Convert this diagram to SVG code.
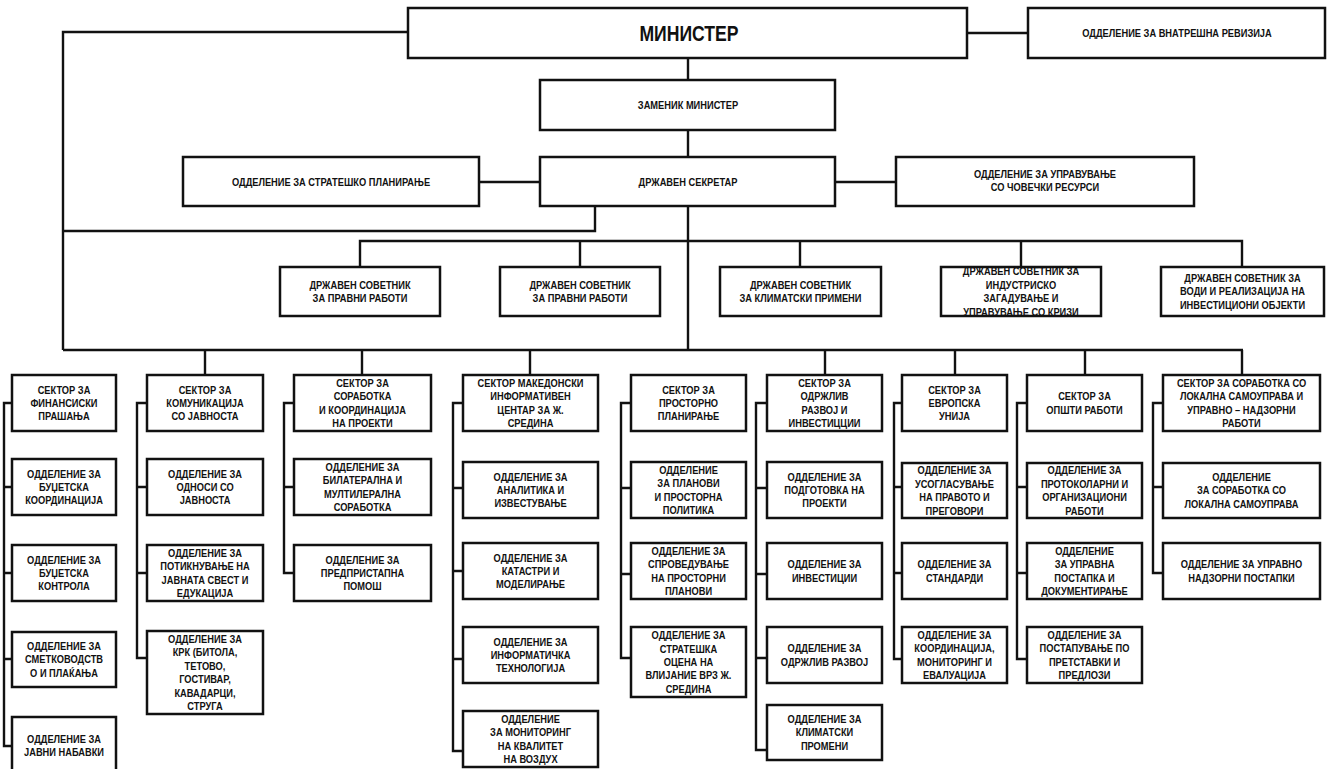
<svg xmlns="http://www.w3.org/2000/svg" width="1327" height="769" viewBox="0 0 1327 769">
<style>
rect{fill:#fff;stroke:#111;stroke-width:2.5}
#connectors path{fill:none;stroke:#111;stroke-width:2.4}
text{font-family:"Liberation Sans",Arial,sans-serif;font-weight:bold;font-size:11.6px;fill:#111;text-anchor:middle}
.big{font-size:22px}
</style>
<rect x="0" y="0" width="1327" height="769" style="fill:#fff;stroke:none"/>
<g id="connectors">
<path d="M408 32H63V350M967 33H1028M688 58V80M688 130V157M479 182H540M835 182H896M595 206V231H63M688 206V350M360 267V241H1242V267M580 241V267M800 241V267M1021 241V267M63 350H1243M205 350V375M362 350V375M530 350V375M825 350V375M955 350V375M1085 350V375M1242 350V375"/>
<path d="M12 403H4V746H12M4 487H12M4 573H12M4 659H12"/>
<path d="M147 403H137V658H147M137 487H147M137 573H147"/>
<path d="M294 403H284V573H294M284 487H294"/>
<path d="M463 403H453V751H463M453 488H463M453 571H463M453 659H463"/>
<path d="M631 403H621V658H631M621 488H631M621 574H631"/>
<path d="M767 403H756V750H767M756 488H767M756 574H767M756 658H767"/>
<path d="M902 403H894V659H902M894 487H902M894 573H902"/>
<path d="M1027 403H1017V659H1027M1017 487H1027M1017 573H1027"/>
<path d="M1163 403H1153V573H1163M1153 487H1163"/>
</g>
<g id="minister"><rect x="408" y="8" width="559" height="50"/><text class="big" transform="matrix(0.8 0 0 1 689 0)" x="0" y="41">МИНИСТЕР</text></g>
<g id="audit"><rect x="1028" y="8" width="297" height="50"/><text transform="matrix(0.8 0 0 1 1177 0)"><tspan x="0" y="37">ОДДЕЛЕНИЕ ЗА ВНАТРЕШНА РЕВИЗИЈА</tspan></text></g>
<g id="deputy"><rect x="540" y="80" width="295" height="50"/><text transform="matrix(0.8 0 0 1 688 0)"><tspan x="0" y="109">ЗАМЕНИК МИНИСТЕР</tspan></text></g>
<g id="secretary"><rect x="540" y="157" width="295" height="49"/><text transform="matrix(0.8 0 0 1 688 0)"><tspan x="0" y="186">ДРЖАВЕН СЕКРЕТАР</tspan></text></g>
<g id="strategic"><rect x="183" y="157" width="296" height="49"/><text transform="matrix(0.8 0 0 1 331 0)"><tspan x="0" y="186">ОДДЕЛЕНИЕ ЗА СТРАТЕШКО ПЛАНИРАЊЕ</tspan></text></g>
<g id="hr"><rect x="896" y="157" width="298" height="49"/><text transform="matrix(0.8 0 0 1 1045 0)"><tspan x="0" y="178">ОДДЕЛЕНИЕ ЗА УПРАВУВАЊЕ</tspan><tspan x="0" dy="13.4">СО ЧОВЕЧКИ РЕСУРСИ</tspan></text></g>

<g id="adv1"><rect x="280" y="267" width="160" height="49"/><text transform="matrix(0.8 0 0 1 360 0)"><tspan x="0" y="289">ДРЖАВЕН СОВЕТНИК</tspan><tspan x="0" dy="13.4">ЗА ПРАВНИ РАБОТИ</tspan></text></g>
<g id="adv2"><rect x="500" y="267" width="160" height="49"/><text transform="matrix(0.8 0 0 1 580 0)"><tspan x="0" y="289">ДРЖАВЕН СОВЕТНИК</tspan><tspan x="0" dy="13.4">ЗА ПРАВНИ РАБОТИ</tspan></text></g>
<g id="adv3"><rect x="720" y="267" width="161" height="49"/><text transform="matrix(0.8 0 0 1 800.5 0)"><tspan x="0" y="289">ДРЖАВЕН СОВЕТНИК</tspan><tspan x="0" dy="13.4">ЗА КЛИМАТСКИ ПРИМЕНИ</tspan></text></g>
<g id="adv4"><rect x="941" y="267" width="160" height="49"/><text transform="matrix(0.8 0 0 1 1021 0)"><tspan x="0" y="275.4">ДРЖАВЕН СОВЕТНИК ЗА</tspan><tspan x="0" dy="13.4">ИНДУСТРИСКО</tspan><tspan x="0" dy="13.4">ЗАГАДУВАЊЕ И</tspan><tspan x="0" dy="13.4">УПРАВУВАЊЕ СО КРИЗИ</tspan></text></g>
<g id="adv5"><rect x="1161" y="267" width="163" height="49"/><text transform="matrix(0.8 0 0 1 1242.5 0)"><tspan x="0" y="282.1">ДРЖАВЕН СОВЕТНИК ЗА</tspan><tspan x="0" dy="13.4">ВОДИ И РЕАЛИЗАЦИЈА НА</tspan><tspan x="0" dy="13.4">ИНВЕСТИЦИОНИ ОБЈЕКТИ</tspan></text></g>

<g id="s1"><rect x="12" y="375" width="104" height="56"/><text transform="matrix(0.8 0 0 1 64 0)"><tspan x="0" y="393.6">СЕКТОР ЗА</tspan><tspan x="0" dy="13.4">ФИНАНСИСКИ</tspan><tspan x="0" dy="13.4">ПРАШАЊА</tspan></text></g>
<g id="s1d1"><rect x="12" y="459" width="104" height="56"/><text transform="matrix(0.8 0 0 1 64 0)"><tspan x="0" y="477.6">ОДДЕЛЕНИЕ ЗА</tspan><tspan x="0" dy="13.4">БУЏЕТСКА</tspan><tspan x="0" dy="13.4">КООРДИНАЦИЈА</tspan></text></g>
<g id="s1d2"><rect x="12" y="545" width="104" height="56"/><text transform="matrix(0.8 0 0 1 64 0)"><tspan x="0" y="563.6">ОДДЕЛЕНИЕ ЗА</tspan><tspan x="0" dy="13.4">БУЏЕТСКА</tspan><tspan x="0" dy="13.4">КОНТРОЛА</tspan></text></g>
<g id="s1d3"><rect x="12" y="632" width="104" height="55"/><text transform="matrix(0.8 0 0 1 64 0)"><tspan x="0" y="650.1">ОДДЕЛЕНИЕ ЗА</tspan><tspan x="0" dy="13.4">СМЕТКОВОДСТВ</tspan><tspan x="0" dy="13.4">О И ПЛАЌАЊА</tspan></text></g>
<g id="s1d4"><rect x="12" y="717" width="104" height="62"/><text transform="matrix(0.8 0 0 1 64 0)"><tspan x="0" y="743">ОДДЕЛЕНИЕ ЗА</tspan><tspan x="0" dy="13.4">ЈАВНИ НАБАВКИ</tspan></text></g>

<g id="s2"><rect x="147" y="375" width="116" height="56"/><text transform="matrix(0.8 0 0 1 205 0)"><tspan x="0" y="393.6">СЕКТОР ЗА</tspan><tspan x="0" dy="13.4">КОМУНИКАЦИЈА</tspan><tspan x="0" dy="13.4">СО ЈАВНОСТА</tspan></text></g>
<g id="s2d1"><rect x="147" y="459" width="116" height="56"/><text transform="matrix(0.8 0 0 1 205 0)"><tspan x="0" y="477.6">ОДДЕЛЕНИЕ ЗА</tspan><tspan x="0" dy="13.4">ОДНОСИ СО</tspan><tspan x="0" dy="13.4">ЈАВНОСТА</tspan></text></g>
<g id="s2d2"><rect x="147" y="545" width="116" height="56"/><text transform="matrix(0.8 0 0 1 205 0)"><tspan x="0" y="556.9">ОДДЕЛЕНИЕ ЗА</tspan><tspan x="0" dy="13.4">ПОТИКНУВАЊЕ НА</tspan><tspan x="0" dy="13.4">ЈАВНАТА СВЕСТ И</tspan><tspan x="0" dy="13.4">ЕДУКАЦИЈА</tspan></text></g>
<g id="s2d3"><rect x="147" y="631" width="116" height="83"/><text transform="matrix(0.8 0 0 1 205 0)"><tspan x="0" y="643">ОДДЕЛЕНИЕ ЗА</tspan><tspan x="0" dy="13.4">КРК (БИТОЛА,</tspan><tspan x="0" dy="13.4">ТЕТОВО,</tspan><tspan x="0" dy="13.4">ГОСТИВАР,</tspan><tspan x="0" dy="13.4">КАВАДАРЦИ,</tspan><tspan x="0" dy="13.4">СТРУГА</tspan></text></g>

<g id="s3"><rect x="294" y="375" width="137" height="56"/><text transform="matrix(0.8 0 0 1 362.5 0)"><tspan x="0" y="386.9">СЕКТОР ЗА</tspan><tspan x="0" dy="13.4">СОРАБОТКА</tspan><tspan x="0" dy="13.4">И КООРДИНАЦИЈА</tspan><tspan x="0" dy="13.4">НА ПРОЕКТИ</tspan></text></g>
<g id="s3d1"><rect x="294" y="459" width="137" height="56"/><text transform="matrix(0.8 0 0 1 362.5 0)"><tspan x="0" y="470.9">ОДДЕЛЕНИЕ ЗА</tspan><tspan x="0" dy="13.4">БИЛАТЕРАЛНА И</tspan><tspan x="0" dy="13.4">МУЛТИЛЕРАЛНА</tspan><tspan x="0" dy="13.4">СОРАБОТКА</tspan></text></g>
<g id="s3d2"><rect x="294" y="545" width="137" height="56"/><text transform="matrix(0.8 0 0 1 362.5 0)"><tspan x="0" y="563.6">ОДДЕЛЕНИЕ ЗА</tspan><tspan x="0" dy="13.4">ПРЕДПРИСТАПНА</tspan><tspan x="0" dy="13.4">ПОМОШ</tspan></text></g>

<g id="s4"><rect x="463" y="375" width="135" height="56"/><text transform="matrix(0.8 0 0 1 530.5 0)"><tspan x="0" y="386.9">СЕКТОР МАКЕДОНСКИ</tspan><tspan x="0" dy="13.4">ИНФОРМАТИВЕН</tspan><tspan x="0" dy="13.4">ЦЕНТАР ЗА Ж.</tspan><tspan x="0" dy="13.4">СРЕДИНА</tspan></text></g>
<g id="s4d1"><rect x="463" y="462" width="135" height="56"/><text transform="matrix(0.8 0 0 1 530.5 0)"><tspan x="0" y="480.6">ОДДЕЛЕНИЕ ЗА</tspan><tspan x="0" dy="13.4">АНАЛИТИКА И</tspan><tspan x="0" dy="13.4">ИЗВЕСТУВАЊЕ</tspan></text></g>
<g id="s4d2"><rect x="463" y="543" width="135" height="56"/><text transform="matrix(0.8 0 0 1 530.5 0)"><tspan x="0" y="561.6">ОДДЕЛЕНИЕ ЗА</tspan><tspan x="0" dy="13.4">КАТАСТРИ И</tspan><tspan x="0" dy="13.4">МОДЕЛИРАЊЕ</tspan></text></g>
<g id="s4d3"><rect x="463" y="627" width="135" height="56"/><text transform="matrix(0.8 0 0 1 530.5 0)"><tspan x="0" y="645.6">ОДДЕЛЕНИЕ ЗА</tspan><tspan x="0" dy="13.4">ИНФОРМАТИЧКА</tspan><tspan x="0" dy="13.4">ТЕХНОЛОГИЈА</tspan></text></g>
<g id="s4d4"><rect x="463" y="711" width="135" height="56"/><text transform="matrix(0.8 0 0 1 530.5 0)"><tspan x="0" y="722.9">ОДДЕЛЕНИЕ</tspan><tspan x="0" dy="13.4">ЗА МОНИТОРИНГ</tspan><tspan x="0" dy="13.4">НА КВАЛИТЕТ</tspan><tspan x="0" dy="13.4">НА ВОЗДУХ</tspan></text></g>

<g id="s5"><rect x="631" y="375" width="115" height="56"/><text transform="matrix(0.8 0 0 1 688.5 0)"><tspan x="0" y="393.6">СЕКТОР ЗА</tspan><tspan x="0" dy="13.4">ПРОСТОРНО</tspan><tspan x="0" dy="13.4">ПЛАНИРАЊЕ</tspan></text></g>
<g id="s5d1"><rect x="631" y="462" width="115" height="56"/><text transform="matrix(0.8 0 0 1 688.5 0)"><tspan x="0" y="473.9">ОДДЕЛЕНИЕ</tspan><tspan x="0" dy="13.4">ЗА ПЛАНОВИ</tspan><tspan x="0" dy="13.4">И ПРОСТОРНА</tspan><tspan x="0" dy="13.4">ПОЛИТИКА</tspan></text></g>
<g id="s5d2"><rect x="631" y="543" width="115" height="56"/><text transform="matrix(0.8 0 0 1 688.5 0)"><tspan x="0" y="554.9">ОДДЕЛЕНИЕ ЗА</tspan><tspan x="0" dy="13.4">СПРОВЕДУВАЊЕ</tspan><tspan x="0" dy="13.4">НА ПРОСТОРНИ</tspan><tspan x="0" dy="13.4">ПЛАНОВИ</tspan></text></g>
<g id="s5d3"><rect x="631" y="627" width="115" height="70"/><text transform="matrix(0.8 0 0 1 688.5 0)"><tspan x="0" y="639.2">ОДДЕЛЕНИЕ ЗА</tspan><tspan x="0" dy="13.4">СТРАТЕШКА</tspan><tspan x="0" dy="13.4">ОЦЕНА НА</tspan><tspan x="0" dy="13.4">ВЛИЈАНИЕ ВРЗ Ж.</tspan><tspan x="0" dy="13.4">СРЕДИНА</tspan></text></g>

<g id="s6"><rect x="767" y="375" width="115" height="56"/><text transform="matrix(0.8 0 0 1 824.5 0)"><tspan x="0" y="386.9">СЕКТОР ЗА</tspan><tspan x="0" dy="13.4">ОДРЖЛИВ</tspan><tspan x="0" dy="13.4">РАЗВОЈ И</tspan><tspan x="0" dy="13.4">ИНВЕСТИЦЦИИ</tspan></text></g>
<g id="s6d1"><rect x="767" y="462" width="115" height="56"/><text transform="matrix(0.8 0 0 1 824.5 0)"><tspan x="0" y="480.6">ОДДЕЛЕНИЕ ЗА</tspan><tspan x="0" dy="13.4">ПОДГОТОВКА НА</tspan><tspan x="0" dy="13.4">ПРОЕКТИ</tspan></text></g>
<g id="s6d2"><rect x="767" y="543" width="115" height="56"/><text transform="matrix(0.8 0 0 1 824.5 0)"><tspan x="0" y="568.3">ОДДЕЛЕНИЕ ЗА</tspan><tspan x="0" dy="13.4">ИНВЕСТИЦИИ</tspan></text></g>
<g id="s6d3"><rect x="767" y="627" width="115" height="56"/><text transform="matrix(0.8 0 0 1 824.5 0)"><tspan x="0" y="652.3">ОДДЕЛЕНИЕ ЗА</tspan><tspan x="0" dy="13.4">ОДРЖЛИВ РАЗВОЈ</tspan></text></g>
<g id="s6d4"><rect x="767" y="705" width="115" height="55"/><text transform="matrix(0.8 0 0 1 824.5 0)"><tspan x="0" y="723.1">ОДДЕЛЕНИЕ ЗА</tspan><tspan x="0" dy="13.4">КЛИМАТСКИ</tspan><tspan x="0" dy="13.4">ПРОМЕНИ</tspan></text></g>

<g id="s7"><rect x="902" y="375" width="105" height="56"/><text transform="matrix(0.8 0 0 1 954.5 0)"><tspan x="0" y="393.6">СЕКТОР ЗА</tspan><tspan x="0" dy="13.4">ЕВРОПСКА</tspan><tspan x="0" dy="13.4">УНИЈА</tspan></text></g>
<g id="s7d1"><rect x="902" y="463" width="105" height="55"/><text transform="matrix(0.8 0 0 1 954.5 0)"><tspan x="0" y="474.4">ОДДЕЛЕНИЕ ЗА</tspan><tspan x="0" dy="13.4">УСОГЛАСУВАЊЕ</tspan><tspan x="0" dy="13.4">НА ПРАВОТО И</tspan><tspan x="0" dy="13.4">ПРЕГОВОРИ</tspan></text></g>
<g id="s7d2"><rect x="902" y="543" width="105" height="56"/><text transform="matrix(0.8 0 0 1 954.5 0)"><tspan x="0" y="568.3">ОДДЕЛЕНИЕ ЗА</tspan><tspan x="0" dy="13.4">СТАНДАРДИ</tspan></text></g>
<g id="s7d3"><rect x="902" y="627" width="105" height="56"/><text transform="matrix(0.8 0 0 1 954.5 0)"><tspan x="0" y="638.9">ОДДЕЛЕНИЕ ЗА</tspan><tspan x="0" dy="13.4">КООРДИНАЦИЈА,</tspan><tspan x="0" dy="13.4">МОНИТОРИНГ И</tspan><tspan x="0" dy="13.4">ЕВАЛУАЦИЈА</tspan></text></g>

<g id="s8"><rect x="1027" y="375" width="115" height="56"/><text transform="matrix(0.8 0 0 1 1084.5 0)"><tspan x="0" y="400.3">СЕКТОР ЗА</tspan><tspan x="0" dy="13.4">ОПШТИ РАБОТИ</tspan></text></g>
<g id="s8d1"><rect x="1027" y="463" width="115" height="55"/><text transform="matrix(0.8 0 0 1 1084.5 0)"><tspan x="0" y="474.4">ОДДЕЛЕНИЕ ЗА</tspan><tspan x="0" dy="13.4">ПРОТОКОЛАРНИ И</tspan><tspan x="0" dy="13.4">ОРГАНИЗАЦИОНИ</tspan><tspan x="0" dy="13.4">РАБОТИ</tspan></text></g>
<g id="s8d2"><rect x="1027" y="543" width="115" height="56"/><text transform="matrix(0.8 0 0 1 1084.5 0)"><tspan x="0" y="554.9">ОДДЕЛЕНИЕ</tspan><tspan x="0" dy="13.4">ЗА УПРАВНА</tspan><tspan x="0" dy="13.4">ПОСТАПКА И</tspan><tspan x="0" dy="13.4">ДОКУМЕНТИРАЊЕ</tspan></text></g>
<g id="s8d3"><rect x="1027" y="627" width="115" height="56"/><text transform="matrix(0.8 0 0 1 1084.5 0)"><tspan x="0" y="638.9">ОДДЕЛЕНИЕ ЗА</tspan><tspan x="0" dy="13.4">ПОСТАПУВАЊЕ ПО</tspan><tspan x="0" dy="13.4">ПРЕТСТАВКИ И</tspan><tspan x="0" dy="13.4">ПРЕДЛОЗИ</tspan></text></g>

<g id="s9"><rect x="1163" y="375" width="157" height="56"/><text transform="matrix(0.8 0 0 1 1241.5 0)"><tspan x="0" y="386.9">СЕКТОР ЗА СОРАБОТКА СО</tspan><tspan x="0" dy="13.4">ЛОКАЛНА САМОУПРАВА И</tspan><tspan x="0" dy="13.4">УПРАВНО – НАДЗОРНИ</tspan><tspan x="0" dy="13.4">РАБОТИ</tspan></text></g>
<g id="s9d1"><rect x="1163" y="463" width="157" height="55"/><text transform="matrix(0.8 0 0 1 1241.5 0)"><tspan x="0" y="481.1">ОДДЕЛЕНИЕ</tspan><tspan x="0" dy="13.4">ЗА СОРАБОТКА СО</tspan><tspan x="0" dy="13.4">ЛОКАЛНА САМОУПРАВА</tspan></text></g>
<g id="s9d2"><rect x="1163" y="543" width="157" height="56"/><text transform="matrix(0.8 0 0 1 1241.5 0)"><tspan x="0" y="568.3">ОДДЕЛЕНИЕ ЗА УПРАВНО</tspan><tspan x="0" dy="13.4">НАДЗОРНИ ПОСТАПКИ</tspan></text></g>
</svg>
